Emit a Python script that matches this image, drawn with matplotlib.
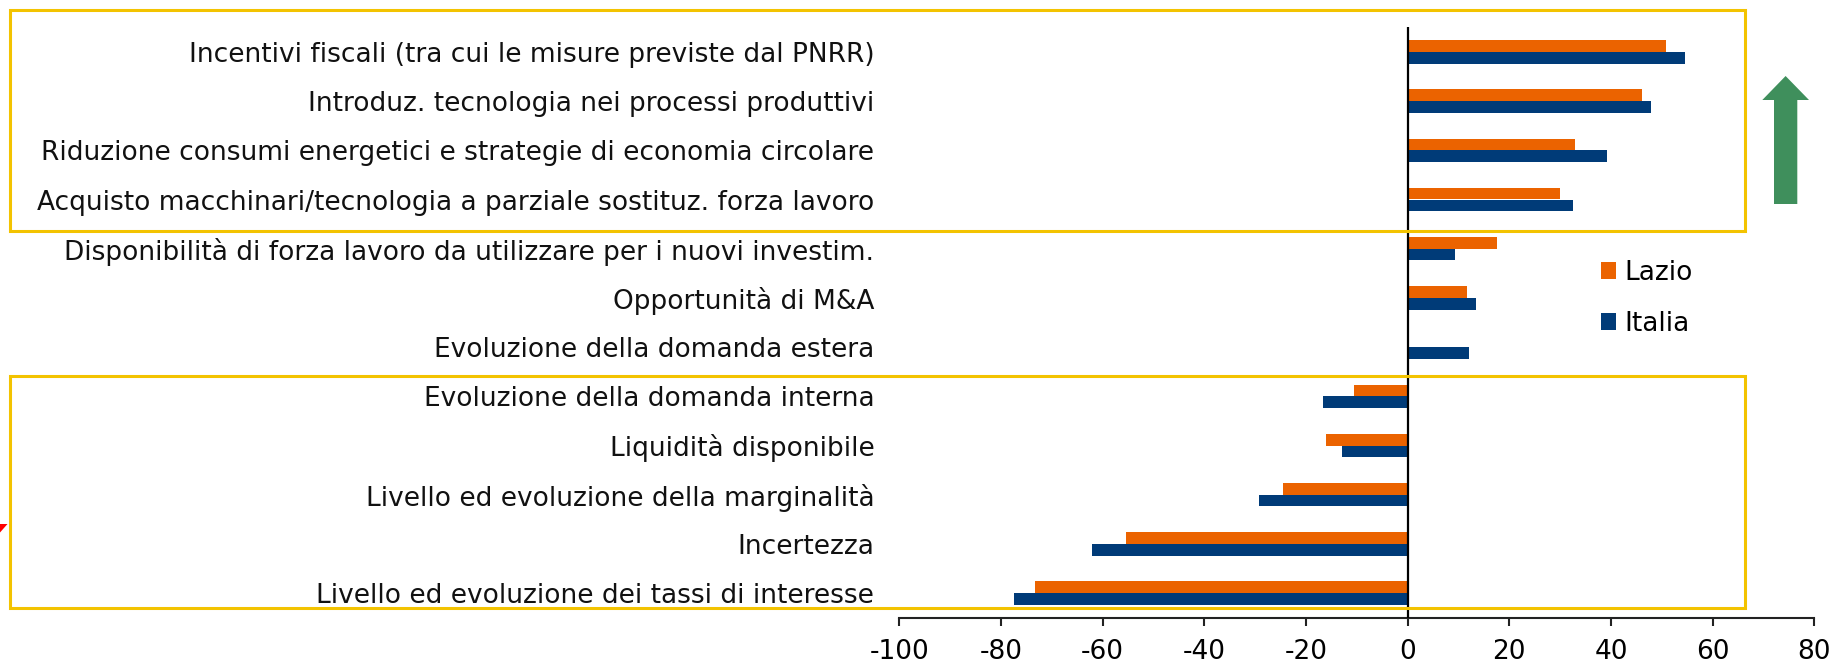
import matplotlib
matplotlib.use("Agg")
import matplotlib.pyplot as plt
from matplotlib.patches import Rectangle, Polygon
import numpy as np

categories = [
    "Incentivi fiscali (tra cui le misure previste dal PNRR)",
    "Introduz. tecnologia nei processi produttivi",
    "Riduzione consumi energetici e strategie di economia circolare",
    "Acquisto macchinari/tecnologia a parziale sostituz. forza lavoro",
    "Disponibilità di forza lavoro da utilizzare per i nuovi investim.",
    "Opportunità di M&A",
    "Evoluzione della domanda estera",
    "Evoluzione della domanda interna",
    "Liquidità disponibile",
    "Livello ed evoluzione della marginalità",
    "Incertezza",
    "Livello ed evoluzione dei tassi di interesse",
]
lazio = [50.8, 46.2, 32.9, 29.9, 17.6, 11.7, 0.3, -10.5, -16.0, -24.5, -55.5, -73.3]
italia = [54.5, 47.9, 39.2, 32.5, 9.4, 13.4, 12.1, -16.7, -13.0, -29.3, -62.1, -77.4]
series_names = ["Lazio", "Italia"]
xticks = [-100, -80, -60, -40, -20, 0, 20, 40, 60, 80]

ORANGE = "#EB6300"
BLUE = "#003B78"
YELLOW = "#F3C300"
GREEN = "#3F8F5C"

W, H = 1835, 667
fig = plt.figure(figsize=(W / 100, H / 100), dpi=100)
ax = fig.add_axes([899.3 / W, 1 - 617.7 / H, (1814.3 - 899.3) / W, (617.7 - 27.3) / H])

y = np.arange(len(categories))
bh = 0.238
ax.barh(y - bh / 2, lazio, height=bh, color=ORANGE, label=series_names[0], zorder=2)
ax.barh(y + bh / 2, italia, height=bh, color=BLUE, label=series_names[1], zorder=2)

ax.set_xlim(-100, 80)
ax.set_ylim(len(categories) - 0.5, -0.5)
ax.axvline(0, color="black", lw=1.6, zorder=3)

for s in ["top", "right", "left"]:
    ax.spines[s].set_visible(False)
ax.spines["bottom"].set_color("#222222")
ax.spines["bottom"].set_linewidth(1.5)

ax.set_xticks(xticks)
ax.set_xticklabels([str(v) for v in xticks])
ax.tick_params(axis="x", direction="out", length=6, width=1.5, color="#222222",
               labelsize=19, pad=9, labelcolor="black")
ax.set_yticks(y)
ax.set_yticklabels(categories)
ax.tick_params(axis="y", length=0, pad=18, labelsize=19, labelcolor="#111111")

leg = ax.legend(loc="upper left", bbox_to_anchor=(1601 / W, 1 - 260 / H),
                bbox_transform=fig.transFigure, frameon=False, fontsize=19,
                handlelength=0.57, handleheight=0.6, handletextpad=0.3,
                labelspacing=0.95, borderpad=0, borderaxespad=0)

def fig_rect(x0, y0, x1, y1):
    return Rectangle((x0 / W, 1 - y1 / H), (x1 - x0) / W, (y1 - y0) / H,
                     transform=fig.transFigure, fill=False, edgecolor=YELLOW,
                     linewidth=2.2, zorder=5)

fig.add_artist(fig_rect(10.4, 10.0, 1745.3, 231.0))
fig.add_artist(fig_rect(10.4, 375.5, 1745.3, 608.0))

pts = [(1774, 204), (1797.3, 204), (1797.3, 100), (1809, 100), (1785.6, 76),
       (1762.3, 100), (1774, 100)]
fig.add_artist(Polygon([(px / W, 1 - py / H) for px, py in pts], closed=True,
                       transform=fig.transFigure, facecolor=GREEN, edgecolor="none"))

rpts = [(0, 524), (7.5, 524), (0, 532.5)]
fig.add_artist(Polygon([(px / W, 1 - py / H) for px, py in rpts], closed=True,
                       transform=fig.transFigure, facecolor="#FF0000", edgecolor="none"))

fig.savefig("out.png", dpi=100, facecolor="white")
